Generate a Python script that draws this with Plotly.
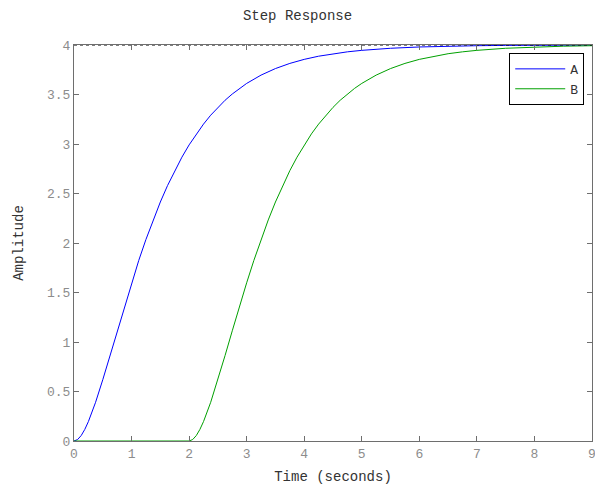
import plotly.graph_objects as go

# Time (s) and amplitude
t_a = [0, 0.0625, 0.125, 0.1875, 0.25, 0.375, 0.5, 0.625, 0.75, 0.875, 1.0, 1.125, 1.25,
       1.375, 1.5, 1.625, 1.75, 1.875, 2.0, 2.125, 2.25, 2.375, 2.5, 2.625, 2.75, 2.875,
       3.0, 3.25, 3.5, 3.75, 4.0, 4.25, 4.5, 4.75, 5.0, 5.5, 6.0, 6.5, 7.0, 7.5, 8.0, 9.0]
amp_a = [0, 0.015, 0.055, 0.117, 0.196, 0.391, 0.619, 0.864, 1.113, 1.360, 1.598, 1.824,
         2.036, 2.233, 2.414, 2.580, 2.731, 2.867, 2.991, 3.102, 3.201, 3.291, 3.370, 3.442,
         3.505, 3.562, 3.612, 3.696, 3.762, 3.814, 3.855, 3.887, 3.912, 3.931, 3.946, 3.967,
         3.980, 3.988, 3.993, 3.996, 3.997, 3.999]

t_b = [0, 2.0, 2.0625, 2.125, 2.1875, 2.25, 2.375, 2.5, 2.625, 2.75, 2.875, 3.0, 3.125,
       3.25, 3.375, 3.5, 3.625, 3.75, 3.875, 4.0, 4.125, 4.25, 4.375, 4.5, 4.625, 4.75,
       4.875, 5.0, 5.25, 5.5, 5.75, 6.0, 6.25, 6.5, 6.75, 7.0, 7.5, 8.0, 8.5, 9.0]
amp_b = [0, 0, 0.015, 0.055, 0.117, 0.196, 0.391, 0.619, 0.864, 1.113, 1.360, 1.598,
         1.824, 2.036, 2.233, 2.414, 2.580, 2.731, 2.867, 2.991, 3.102, 3.201, 3.291,
         3.370, 3.442, 3.505, 3.562, 3.612, 3.696, 3.762, 3.814, 3.855, 3.887, 3.912,
         3.931, 3.946, 3.967, 3.980, 3.988, 3.993]

steady_x = [0, 9]
steady_y = [4, 4]

x_ticks = [0, 1, 2, 3, 4, 5, 6, 7, 8, 9]
y_ticks = [0, 0.5, 1, 1.5, 2, 2.5, 3, 3.5, 4]
y_labels = ["0", "0.5", "1", "1.5", "2", "2.5", "3", "3.5", "4"]

FONT = "Liberation Mono, Courier New, monospace"

fig = go.Figure()
fig.add_trace(go.Scatter(x=t_a, y=amp_a, mode="lines", name="A",
                         line=dict(color="#0000ff", width=1)))
fig.add_trace(go.Scatter(x=t_b, y=amp_b, mode="lines", name="B",
                         line=dict(color="#00a000", width=1)))
fig.add_trace(go.Scatter(x=steady_x, y=steady_y, mode="lines", showlegend=False,
                         line=dict(color="black", width=1, dash="dot"), hoverinfo="skip"))

axis_common = dict(showgrid=False, zeroline=False, showline=True, linecolor="#6e6e6e",
                   linewidth=1, mirror="ticks", ticks="inside", ticklen=5,
                   tickcolor="#6e6e6e", ticklabeloverflow="allow", automargin=False,
                   tickfont=dict(family=FONT, size=13, color="#8c8c8c"))

fig.update_layout(
    width=595, height=487,
    margin=dict(l=74, r=3, t=45, b=46),
    paper_bgcolor="white", plot_bgcolor="white",
    title=dict(text="Step Response", x=0.5, xanchor="center", y=0.97, yanchor="middle",
               font=dict(family=FONT, size=14, color="#333333")),
    xaxis=dict(range=[0, 9], tickvals=x_ticks, ticktext=[str(v) for v in x_ticks],
               title=dict(text="Time (seconds)", standoff=10,
                          font=dict(family=FONT, size=14, color="#333333")),
               **axis_common),
    yaxis=dict(range=[0, 4], tickvals=y_ticks, ticktext=y_labels,
               title=dict(text="Amplitude", standoff=20,
                          font=dict(family=FONT, size=14, color="#333333")),
               **axis_common),
    legend=dict(x=0.985, y=0.98, xanchor="right", yanchor="top", bgcolor="white",
                bordercolor="black", borderwidth=1,
                font=dict(family=FONT, size=13, color="#333333"),
                tracegroupgap=0, itemwidth=50),
    showlegend=True,
)

fig.write_html("out.html", config={"displayModeBar": False},
               post_script="document.body.style.margin='0';document.body.style.padding='0';")
